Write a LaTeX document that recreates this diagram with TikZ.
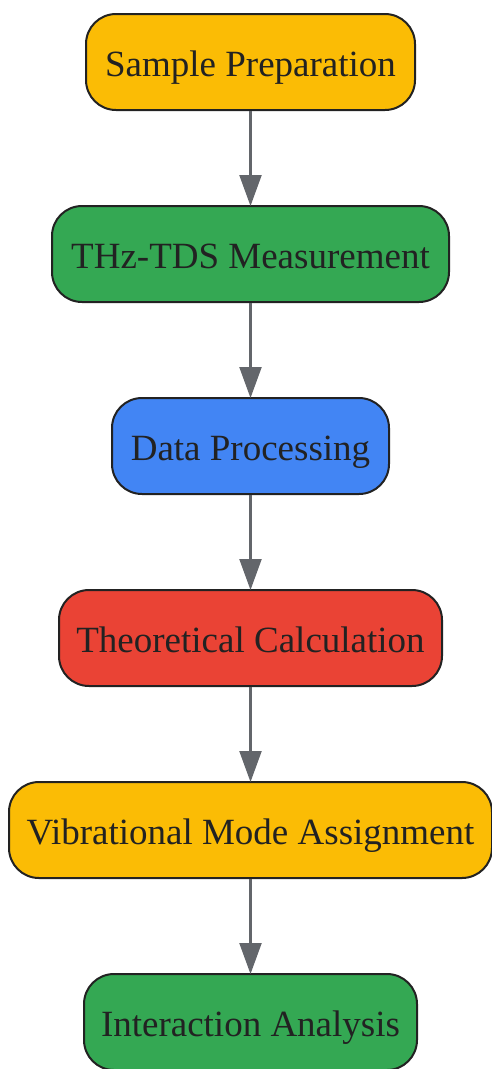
\documentclass[tikz,border=0pt]{standalone}
\usepackage{fontspec}
\setmainfont{Liberation Serif}
\usetikzlibrary{arrows.meta}
\definecolor{gyellow}{HTML}{FBBC05}
\definecolor{ggreen}{HTML}{34A853}
\definecolor{gblue}{HTML}{4285F4}
\definecolor{gred}{HTML}{EA4335}
\definecolor{edgegray}{HTML}{63666B}
\definecolor{ink}{HTML}{222222}
\begin{document}
\begin{tikzpicture}[x=1pt,y=-1pt,
  stepbox/.style={draw=ink, line width=2pt, rounded corners=30pt, minimum height=96pt,
    inner sep=0pt, text height=34pt, text depth=6pt, text=ink,
    font=\fontsize{37}{44}\selectfont, anchor=center},
  flow/.style={draw=edgegray, line width=2.2pt, -{Triangle[width=22pt,length=31pt]}, shorten >=-1pt}]
\useasboundingbox (0,0) rectangle (491,1069);
\node[stepbox, fill=gyellow, minimum width=329pt] (a) at (250.5,62) {Sample Preparation};
\node[stepbox, fill=ggreen, minimum width=397pt] (b) at (250.5,254) {THz-TDS Measurement};
\node[stepbox, fill=gblue, minimum width=277pt] (c) at (250.5,446) {Data Processing};
\node[stepbox, fill=gred, minimum width=383pt] (d) at (250.5,638) {Theoretical Calculation};
\node[stepbox, fill=gyellow, minimum width=483pt] (e) at (250.5,830) {Vibrational Mode Assignment};
\node[stepbox, fill=ggreen, minimum width=333pt] (f) at (250.5,1022) {Interaction Analysis};
\draw[flow] (a) -- (b);
\draw[flow] (b) -- (c);
\draw[flow] (c) -- (d);
\draw[flow] (d) -- (e);
\draw[flow] (e) -- (f);
\end{tikzpicture}
\end{document}
